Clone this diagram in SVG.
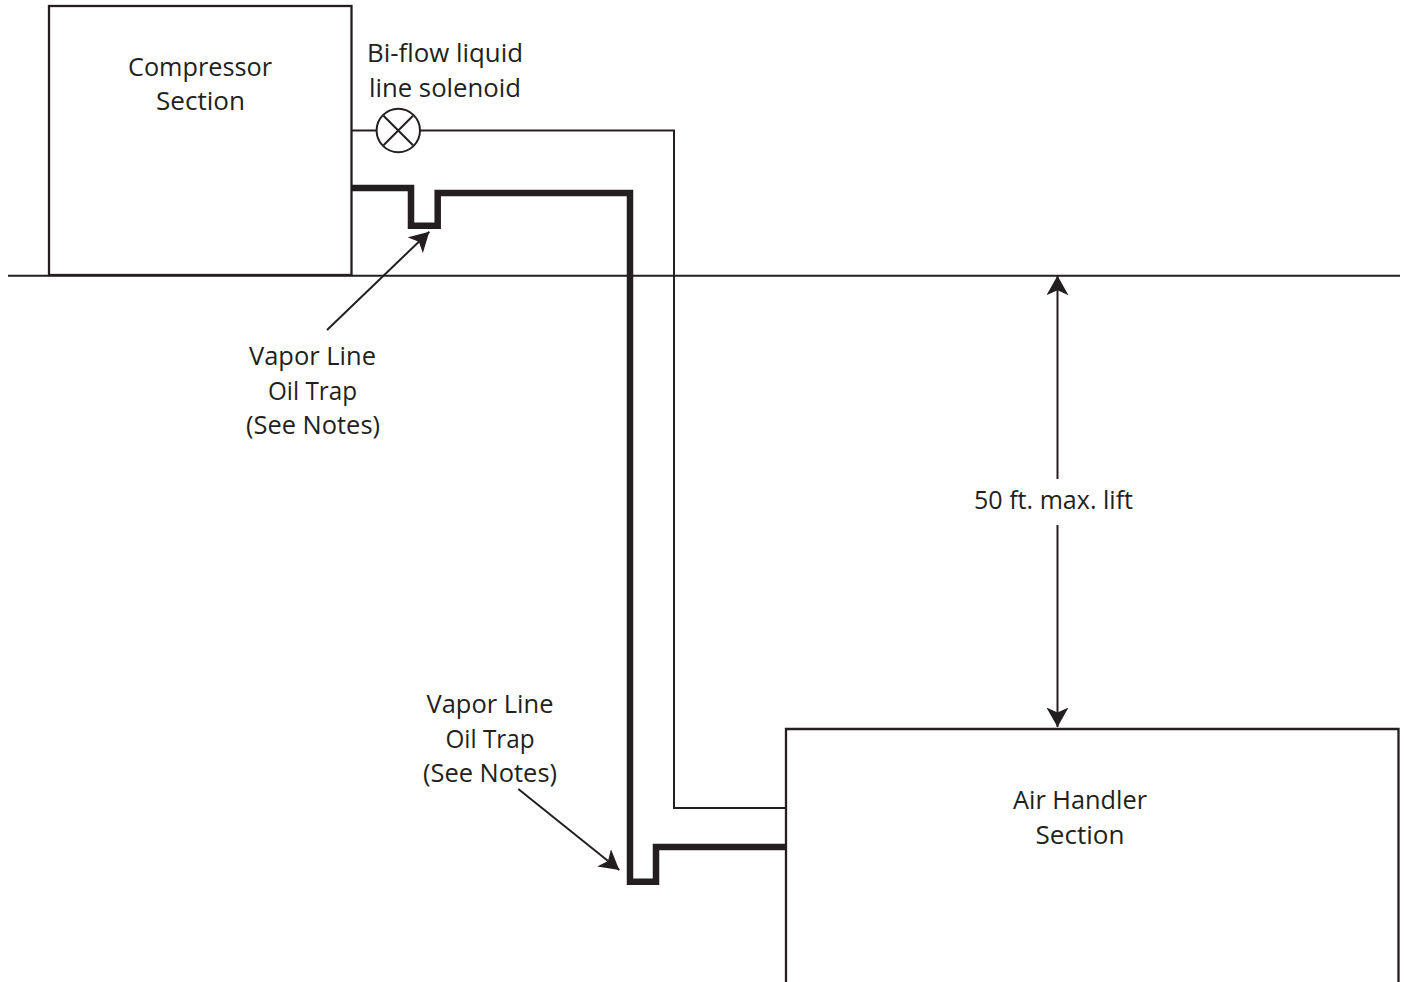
<svg xmlns="http://www.w3.org/2000/svg" width="1405" height="982" viewBox="0 0 1405 982">
<defs>
<marker id="a" markerUnits="userSpaceOnUse" markerWidth="20" markerHeight="22" refX="19.5" refY="11" orient="auto"><path d="M0 0L19.5 11L0 22L5 11Z" fill="#231f20"/></marker>
<marker id="b" markerUnits="userSpaceOnUse" markerWidth="20" markerHeight="22" refX="0" refY="11" orient="auto"><path d="M19.5 0L0 11L19.5 22L14.5 11Z" fill="#231f20"/></marker>
</defs>
<style>
text{font-family:"Open Sans","Noto Sans",sans-serif;font-size:25.5px;fill:#231f20;text-anchor:middle}
.box{fill:#fff;stroke:#231f20;stroke-width:2.3}
.thin{fill:none;stroke:#231f20;stroke-width:2}
.thick{fill:none;stroke:#231f20;stroke-width:6.5;stroke-miterlimit:10}
</style>
<rect width="1405" height="982" fill="#fff"/>
<g id="connectors">
<path class="thin" d="M8 275.7H1400"/>
<path class="thin" d="M351 130.5H376M420 130.5H674V808H786"/>
<path class="thick" d="M351 188H411V225.7H437.7V193H630V881.7H656V847H786"/>
<path class="thin" d="M327 330L429.3 231.7" marker-end="url(#a)"/>
<path class="thin" d="M518.3 789L619.3 870" marker-end="url(#a)"/>
<path class="thin" d="M1057.5 275.7V479" marker-start="url(#b)"/>
<path class="thin" d="M1057.5 525V727" marker-end="url(#a)"/>
</g>
<g id="compressor"><rect class="box" x="49" y="6" width="302.5" height="269"/><text x="200" y="76" textLength="144" lengthAdjust="spacingAndGlyphs">Compressor</text><text x="200.500" y="110" textLength="89" lengthAdjust="spacingAndGlyphs">Section</text></g>
<g id="air-handler"><path class="box" d="M786 982V729H1398.500V982"/><text x="1080" y="809" textLength="134" lengthAdjust="spacingAndGlyphs">Air Handler</text><text x="1080" y="844" textLength="89" lengthAdjust="spacingAndGlyphs">Section</text></g>
<g id="solenoid"><circle class="thin" cx="398.300" cy="130.500" r="21.700"/><path class="thin" d="M383.500 115.700L413 145.300M413 115.700L383.500 145.300"/><text x="445" y="62" textLength="156" lengthAdjust="spacingAndGlyphs">Bi-flow liquid</text><text x="445" y="97" textLength="152" lengthAdjust="spacingAndGlyphs">line solenoid</text></g>
<g id="trap-label-1"><text x="312.500" y="365" textLength="127" lengthAdjust="spacingAndGlyphs">Vapor Line</text><text x="312.500" y="400" textLength="89" lengthAdjust="spacingAndGlyphs">Oil Trap</text><text x="313" y="434" textLength="134" lengthAdjust="spacingAndGlyphs">(See Notes)</text></g>
<g id="trap-label-2"><text x="490" y="713" textLength="127" lengthAdjust="spacingAndGlyphs">Vapor Line</text><text x="490" y="748" textLength="89" lengthAdjust="spacingAndGlyphs">Oil Trap</text><text x="490" y="782" textLength="134" lengthAdjust="spacingAndGlyphs">(See Notes)</text></g>
<g id="lift-label"><text x="1053.500" y="509" textLength="159" lengthAdjust="spacingAndGlyphs">50 ft. max. lift</text></g>
</svg>
